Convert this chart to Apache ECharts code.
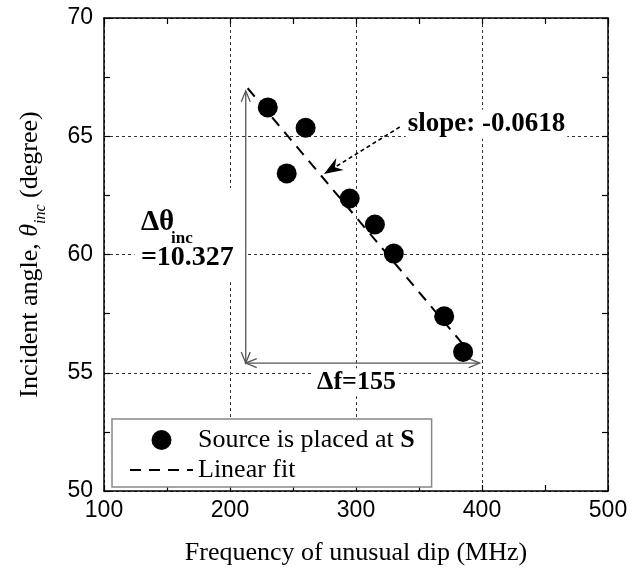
<!DOCTYPE html>
<html>
<head>
<meta charset="utf-8">
<script src="https://cdn.jsdelivr.net/npm/echarts@6/dist/echarts.min.js"></script>
<style>
html, body { margin: 0; background: #fff; }
#chart { width: 642px; height: 571px; }
</style>
</head>
<body>
<div id="chart"></div>
<script>
// measured points
var freqMHz = [230, 245, 260, 295, 315, 330, 370, 385];
var angleDeg = [66.22, 63.43, 65.36, 62.37, 61.27, 60.04, 57.39, 55.88];

// ends of the fitted line
var fitFreq = [214, 392];
var fitAngle = [67.03, 55.75];

var xTicks = [100, 200, 300, 400, 500];
var yTicks = [50, 55, 60, 65, 70];

var seriesNames = ['Source is placed at S', 'Linear fit'];

// annotation texts
var slopeText = 'slope: -0.0618';
var dThetaValue = '=10.327';
var dFText = 'Δf=155';

// dimension arrows (data units)
var dimFreq = [212.5, 398.2];
var dimAngle = [55.41, 66.92];

var serif = '"Liberation Serif", "Times New Roman", serif';
var sans = '"Liberation Sans", Arial, sans-serif';

function headV(tip, ux, uy, len, half) {
    var nx = -uy, ny = ux;
    return [
        [tip[0] - ux * len + nx * half, tip[1] - uy * len + ny * half],
        tip,
        [tip[0] - ux * len - nx * half, tip[1] - uy * len - ny * half]
    ];
}

function dimArrow(a, b) {
    var dx = b[0] - a[0], dy = b[1] - a[1];
    var l = Math.sqrt(dx * dx + dy * dy);
    var ux = dx / l, uy = dy / l;
    var st = { stroke: '#555', lineWidth: 1.3, fill: null };
    return [
        { type: 'line', shape: { x1: a[0], y1: a[1], x2: b[0], y2: b[1] }, style: st },
        { type: 'polyline', shape: { points: headV(b, ux, uy, 11, 4.5) }, style: st },
        { type: 'polyline', shape: { points: headV(a, -ux, -uy, 11, 4.5) }, style: st }
    ];
}

function renderNotes(params, api) {
    var c = function (x, y) { return api.coord([x, y]); };
    var kids = [];

    // white patch behind the delta theta block
    var a = c(124.3, 62.81), b = c(211.8, 58.83);
    kids.push({ type: 'rect', shape: { x: a[0], y: a[1], width: b[0] - a[0], height: b[1] - a[1] }, style: { fill: '#fff' } });

    var t = c(129.3, 61.37);
    kids.push({ type: 'text', style: { text: 'Δθ', x: t[0], y: t[1], verticalAlign: 'middle', font: 'bold 29px ' + serif, fill: '#000' } });
    t = c(153.2, 60.66);
    kids.push({ type: 'text', style: { text: 'inc', x: t[0], y: t[1], verticalAlign: 'middle', font: 'bold 17px ' + serif, fill: '#000' } });
    t = c(129.3, 59.87);
    kids.push({ type: 'text', style: { text: dThetaValue, x: t[0], y: t[1], verticalAlign: 'middle', font: 'bold 28px ' + serif, fill: '#000' } });

    // dimension arrows
    var p0 = c(dimFreq[0], dimAngle[0]);
    kids = kids.concat(dimArrow(p0, c(dimFreq[0], dimAngle[1])));
    kids = kids.concat(dimArrow(p0, c(dimFreq[1], dimAngle[0])));

    t = c(300.4, 54.6);
    kids.push({ type: 'text', style: { text: dFText, x: t[0], y: t[1], align: 'center', verticalAlign: 'middle', font: 'bold 26px ' + serif, fill: '#000', backgroundColor: '#fff', padding: [1, 3] } });

    // slope label and dotted pointer
    t = c(339.5, 65.51);
    kids.push({ type: 'text', style: { text: slopeText, x: t[0], y: t[1], verticalAlign: 'middle', font: 'bold 27px ' + serif, fill: '#000', backgroundColor: '#fff', padding: [1, 2] } });

    var s = c(334.7, 65.39), e = c(274.5, 63.40);
    var dx = e[0] - s[0], dy = e[1] - s[1];
    var l = Math.sqrt(dx * dx + dy * dy);
    var ux = dx / l, uy = dy / l, nx = -uy, ny = ux;
    var back = [e[0] - ux * 12, e[1] - uy * 12];
    kids.push({ type: 'line', shape: { x1: s[0], y1: s[1], x2: back[0], y2: back[1] }, style: { stroke: '#000', lineWidth: 1.6, lineDash: [4, 3] } });
    kids.push({
        type: 'polygon',
        shape: { points: [
            e,
            [e[0] - ux * 19 + nx * 7, e[1] - uy * 19 + ny * 7],
            [e[0] - ux * 13, e[1] - uy * 13],
            [e[0] - ux * 19 - nx * 7, e[1] - uy * 19 - ny * 7]
        ] },
        style: { fill: '#000' }
    });

    return { type: 'group', children: kids };
}

var gridDash = { color: '#333', width: 1, type: [3, 3] };

function xAxisOf(pos, labels) {
    return {
        type: 'value', position: pos,
        min: xTicks[0], max: xTicks[xTicks.length - 1], interval: xTicks[1] - xTicks[0],
        name: labels ? 'Frequency of unusual dip (MHz)' : '',
        nameLocation: 'middle', nameGap: 49,
        nameTextStyle: { fontFamily: serif, fontSize: 26, color: '#000' },
        axisLine: { lineStyle: { color: '#000', width: 1.5 } },
        axisTick: { inside: true, length: 6, lineStyle: { color: '#000', width: 1.2 } },
        minorTick: { show: true, splitNumber: 2, length: 6, lineStyle: { color: '#000', width: 1.2 } },
        axisLabel: { show: labels, margin: 8, fontFamily: sans, fontSize: 23, color: '#000' },
        splitLine: { show: labels, lineStyle: gridDash }
    };
}

function yAxisOf(pos, labels) {
    return {
        type: 'value', position: pos,
        min: yTicks[0], max: yTicks[yTicks.length - 1], interval: yTicks[1] - yTicks[0],
        name: labels ? 'Incident angle, {it|θ}{sub|inc} (degree)' : '',
        nameLocation: 'middle', nameGap: 61, nameRotate: 90,
        nameTextStyle: {
            fontFamily: serif, fontSize: 26, color: '#000',
            rich: {
                it: { fontFamily: serif, fontSize: 26, fontStyle: 'italic', color: '#000' },
                sub: { fontFamily: serif, fontSize: 16, fontStyle: 'italic', color: '#000', verticalAlign: 'bottom', padding: [0, 0, -6, 0] }
            }
        },
        axisLine: { lineStyle: { color: '#000', width: 1.5 } },
        axisTick: { inside: true, length: 6, lineStyle: { color: '#000', width: 1.2 } },
        minorTick: { show: true, splitNumber: 2, length: 6, lineStyle: { color: '#000', width: 1.2 } },
        axisLabel: { show: labels, margin: 11, fontFamily: sans, fontSize: 23, color: '#000' },
        splitLine: { show: labels, lineStyle: gridDash }
    };
}

var chart = echarts.init(document.getElementById('chart'));
chart.setOption({
    animation: false,
    backgroundColor: '#fff',
    grid: { left: 104, right: 34, top: 18, bottom: 80, containLabel: false },
    xAxis: [xAxisOf('bottom', true), xAxisOf('top', false)],
    yAxis: [yAxisOf('left', true), yAxisOf('right', false)],
    legend: {
        orient: 'vertical', left: 112, top: 419,
        data: seriesNames,
        backgroundColor: '#fff', borderColor: '#888', borderWidth: 1.5, borderRadius: 0,
        padding: [6, 17, 2, 17], itemGap: 0, itemWidth: 63, itemHeight: 20,
        textStyle: {
            fontFamily: serif, fontSize: 26, color: '#000', lineHeight: 30,
            rich: { b: { fontFamily: serif, fontSize: 26, fontWeight: 'bold', color: '#000', lineHeight: 30 } }
        },
        formatter: function (n) {
            return n === seriesNames[0] ? 'Source is placed at {b|S}' : n;
        }
    },
    series: [
        {
            name: seriesNames[0], type: 'scatter',
            data: freqMHz.map(function (f, i) { return [f, angleDeg[i]]; }),
            symbol: 'circle', symbolSize: 20, symbolKeepAspect: true,
            itemStyle: { color: '#000', opacity: 1 }, z: 4
        },
        {
            name: seriesNames[1], type: 'line',
            data: fitFreq.map(function (f, i) { return [f, fitAngle[i]]; }),
            symbol: 'none', showSymbol: false,
            itemStyle: { color: 'rgba(0,0,0,0)', borderColor: 'rgba(0,0,0,0)' },
            lineStyle: { color: '#000', width: 2, type: [11, 8] }, z: 3
        },
        {
            type: 'custom', renderItem: renderNotes, data: [[300, 60]],
            clip: false, silent: true, z: 2
        }
    ]
});
</script>
</body>
</html>
